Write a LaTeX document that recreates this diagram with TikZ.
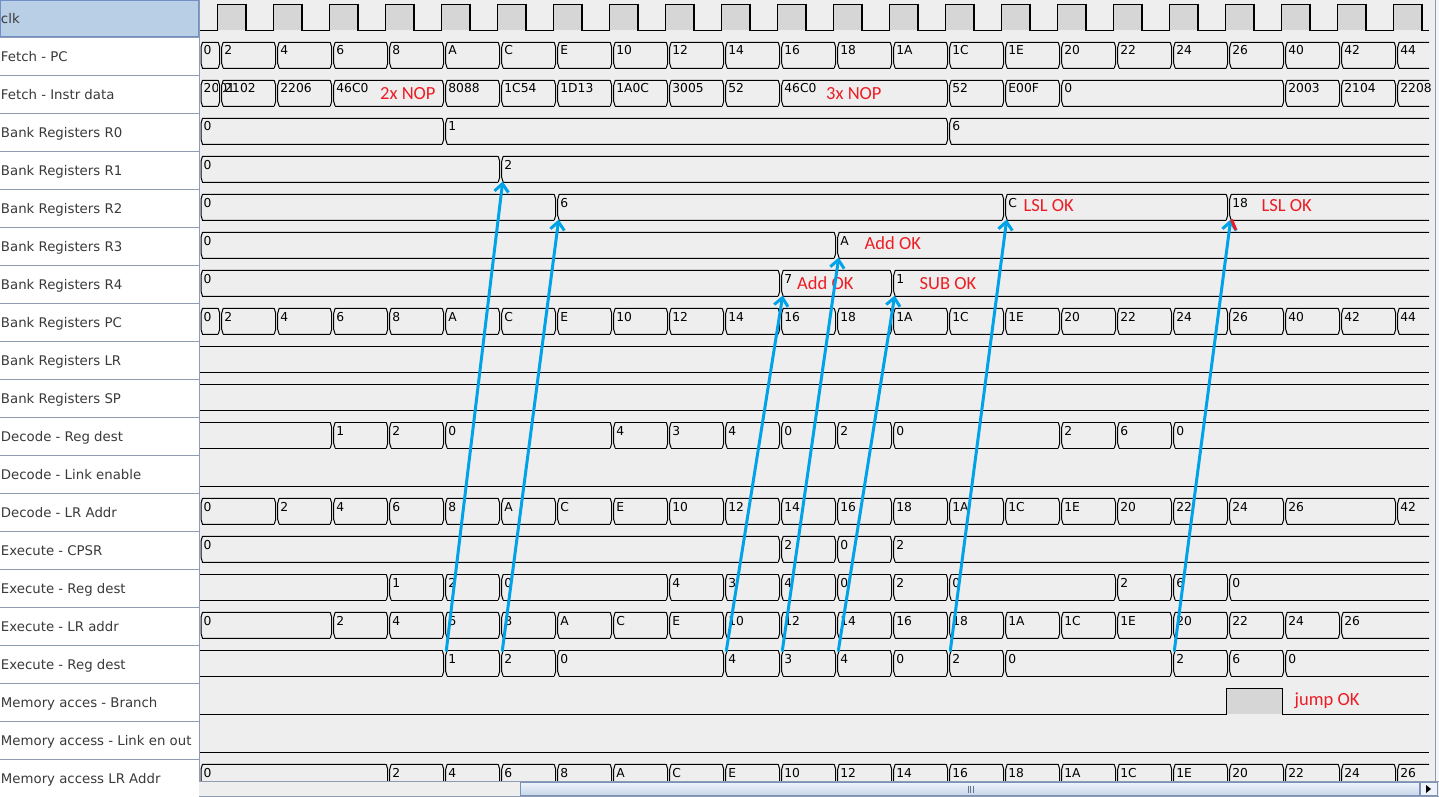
\documentclass[tikz,border=0pt]{standalone}
\usepackage{fontspec}
\setmainfont{DejaVu Sans}
\newfontfamily\paintfont{Carlito}
\usetikzlibrary{arrows.meta}

\definecolor{wavebg}{HTML}{EEEEEE}
\definecolor{highfill}{HTML}{D6D6D6}
\definecolor{namegrid}{HTML}{8E9BB0}
\definecolor{namefont}{HTML}{3A3A3A}
\definecolor{selfill}{HTML}{B8CFE5}
\definecolor{selline}{HTML}{6F8FC6}
\definecolor{paintred}{RGB}{237,28,36}
\definecolor{paintblue}{RGB}{0,162,232}
\definecolor{thumbtop}{HTML}{EEF3FA}
\definecolor{thumbbot}{HTML}{C6D6EA}
\definecolor{thumbline}{HTML}{7B92B8}
\definecolor{edgebg}{HTML}{F4F6FA}

% one bus row: row, first value (empty = undefined), list cycle/value
\newcommand{\busrow}[3]{%
  \pgfmathsetmacro{\ytop}{38*#1+4.3}%
  \pgfmathsetmacro{\ybot}{38*#1+30.3}%
  \if\relax\detokenize{#2}\relax
    \draw[bus] (200,\ytop) -- (1429,\ytop) (200,\ybot) -- (1429,\ybot);
  \else
    \draw[bus] (1429,\ytop) -- (202.5,\ytop) -- (201,{\ytop+5}) -- (201,{\ybot-5})
      -- (202.5,\ybot) -- (1429,\ybot);
    \node[val] (v-#1-s) at (203.5,{38*#1+17}) {#2};
  \fi
  \foreach \cyc/\lab in {#3} {
    \pgfmathsetmacro{\xt}{220.7+56*\cyc}
    \fill[wavebg] ({\xt-2.4},{\ytop-1}) rectangle ({\xt+2.4},{\ybot+1});
    \draw[bus] ({\xt-2.5},\ytop) -- ({\xt-1},{\ytop+5}) -- ({\xt-1},{\ybot-5}) -- ({\xt-2.5},\ybot)
      ({\xt+2.5},\ytop) -- ({\xt+1},{\ytop+5}) -- ({\xt+1},{\ybot-5}) -- ({\xt+2.5},\ybot);
  }
  \foreach \cyc/\lab in {#3}
    \node[val] (v-#1-\cyc) at ({220.7+56*\cyc+3.5},{38*#1+17}) {\lab};
}

\begin{document}
\begin{tikzpicture}[x=1pt, y=-1pt,
    bus/.style={line width=1pt, black},
    clock/.style={line width=1.4pt, black},
    val/.style={anchor=base west, inner sep=0pt, font=\fontsize{12.3}{14}\selectfont},
    lbl/.style={anchor=base west, inner sep=0pt, text=namefont, font=\fontsize{13.3}{16}\selectfont},
    note/.style={anchor=base west, inner sep=0pt, text=paintred, font=\paintfont\fontsize{18.5}{22}\selectfont},
    link/.style={paintblue, line width=3pt, -{Straight Barb[length=8pt,width=14pt]}}]
    \useasboundingbox (0,0) rectangle (1439,797);

    % Backgrounds
    \fill[wavebg] (199,0) rectangle (1439,797);
    \fill[white] (0,0) rectangle (199,797);
    \fill[edgebg] (1435,0) rectangle (1439,781);
    \draw[namegrid] (1435,0) -- (1435,781);

    % Signal names
    \filldraw[fill=selfill, draw=selline] (0.5,0.5) rectangle (198,36.5);
    \foreach \i in {1,...,20}
        \draw[namegrid] (0,{38*\i-0.5}) -- (199,{38*\i-0.5});
    \draw[namegrid] (199,0) -- (199,797);
    \foreach \name [count=\i from 0] in {clk, Fetch - PC, Fetch - Instr data,
        Bank Registers R0, Bank Registers R1, Bank Registers R2, Bank Registers R3,
        Bank Registers R4, Bank Registers PC, Bank Registers LR, Bank Registers SP,
        Decode - Reg dest, Decode - Link enable, Decode - LR Addr, Execute - CPSR,
        Execute - Reg dest, Execute - LR addr, Execute - Reg dest,
        Memory acces - Branch, Memory access - Link en out, Memory access LR Addr}
        \node[lbl] (name\i) at (0.8,{38*\i+23.5}) {\name};

    % Clock
    \foreach \cyc in {0,...,21}
        \fill[highfill] ({217.3+56*\cyc},4.3) rectangle ({245.8+56*\cyc},30.3);
    \draw[clock] (200,30.3) \foreach \cyc in {0,...,21} {
        -- ({217.3+56*\cyc},30.3) -- ({217.3+56*\cyc},4.3)
        -- ({245.8+56*\cyc},4.3) -- ({245.8+56*\cyc},30.3)} -- (1429,30.3);

    % Fetch
    \busrow{1}{0}{0/2,1/4,2/6,3/8,4/A,5/C,6/E,7/10,8/12,9/14,10/16,11/18,12/1A,13/1C,14/1E,15/20,16/22,17/24,18/26,19/40,20/42,21/44}
    \busrow{2}{2001}{0/2102,1/2206,2/46C0,4/8088,5/1C54,6/1D13,7/1A0C,8/3005,9/52,10/46C0,13/52,14/E00F,15/0,19/2003,20/2104,21/2208}

    % Bank registers
    \busrow{3}{0}{4/1,13/6}
    \busrow{4}{0}{5/2}
    \busrow{5}{0}{6/6,14/C,18/18}
    \busrow{6}{0}{11/A}
    \busrow{7}{0}{10/7,12/1}
    \busrow{8}{0}{0/2,1/4,2/6,3/8,4/A,5/C,6/E,7/10,8/12,9/14,10/16,11/18,12/1A,13/1C,14/1E,15/20,16/22,17/24,18/26,19/40,20/42,21/44}
    \draw[bus] (200,346.3) -- (1429,346.3) (200,372.3) -- (1429,372.3);
    \draw[bus] (200,384.3) -- (1429,384.3) (200,410.3) -- (1429,410.3);

    % Decode
    \busrow{11}{}{2/1,3/2,4/0,7/4,8/3,9/4,10/0,11/2,12/0,15/2,16/6,17/0}
    \draw[bus] (200,486.3) -- (1429,486.3);
    \busrow{13}{0}{1/2,2/4,3/6,4/8,5/A,6/C,7/E,8/10,9/12,10/14,11/16,12/18,13/1A,14/1C,15/1E,16/20,17/22,18/24,19/26,21/42}

    % Execute
    \busrow{14}{0}{10/2,11/0,12/2}
    \busrow{15}{}{3/1,4/2,5/0,8/4,9/3,10/4,11/0,12/2,13/0,16/2,17/6,18/0}
    \busrow{16}{0}{2/2,3/4,4/6,5/8,6/A,7/C,8/E,9/10,10/12,11/14,12/16,13/18,14/1A,15/1C,16/1E,17/20,18/22,19/24,20/26}
    \busrow{17}{}{4/1,5/2,6/0,9/4,10/3,11/4,12/0,13/2,14/0,17/2,18/6,19/0}

    % Memory access
    \fill[highfill] (1226.5,688.3) rectangle (1282.5,714.3);
    \draw[bus] (200,714.3) -- (1226.5,714.3) -- (1226.5,688.3) -- (1282.5,688.3)
        -- (1282.5,714.3) -- (1429,714.3);
    \draw[bus] (200,752.3) -- (1429,752.3);
    \busrow{20}{0}{3/2,4/4,5/6,6/8,7/A,8/C,9/E,10/10,11/12,12/14,13/16,14/18,15/1A,16/1C,17/1E,18/20,19/22,20/24,21/26}

    % Notes
    \node[note] (nop2) at (380,99.3) {2x NOP};
    \node[note] (nop3) at (826,99.3) {3x NOP};
    \node[note] (lsl1) at (1023.5,211.7) {LSL OK};
    \node[note] (lsl2) at (1261.5,211.7) {LSL OK};
    \node[note] (add1) at (864.5,249) {Add OK};
    \node[note] (add2) at (797,289) {Add OK};
    \node[note] (sub1) at (919.5,289) {SUB OK};
    \node[note] (jump) at (1294.5,705) {jump OK};

    % Write back links
    \foreach \cyc/\reg in {4/4,5/5,9/7,10/6,11/7,13/5,17/5} {
        \coordinate (src\cyc) at ({220.7+56*\cyc+1.5},651.5);
        \coordinate (dst\cyc) at ({220.7+56*(\cyc+1)+2},{38*\reg+29.5});
        \draw[link] (src\cyc) -- (dst\cyc);
    }
    \coordinate (mark1) at (1231.5,219.5);
    \coordinate (mark2) at (1235.8,229.8);
    \draw[paintred, line width=3pt] (mark1) -- (mark2);

    % Scroll bar
    \fill[wavebg] (199,781) rectangle (1439,797);
    \draw[namegrid] (199,781.5) -- (1439,781.5);
    \draw[namegrid] (199,796.5) -- (1439,796.5);
    \shadedraw[top color=thumbtop, bottom color=thumbbot, draw=thumbline] (520.5,782.5) rectangle (1419.5,795.5);
    \foreach \g in {-2.5,0,2.5}
        \draw[thumbline!80!black] ({970.5+\g},785.5) -- ({970.5+\g},792.5);
    \filldraw[fill=thumbtop, draw=thumbline] (1420.5,782.5) rectangle (1437.5,795.5);
    \fill (1426,785) -- (1426,793) -- (1431,789) -- cycle;
\end{tikzpicture}
\end{document}
